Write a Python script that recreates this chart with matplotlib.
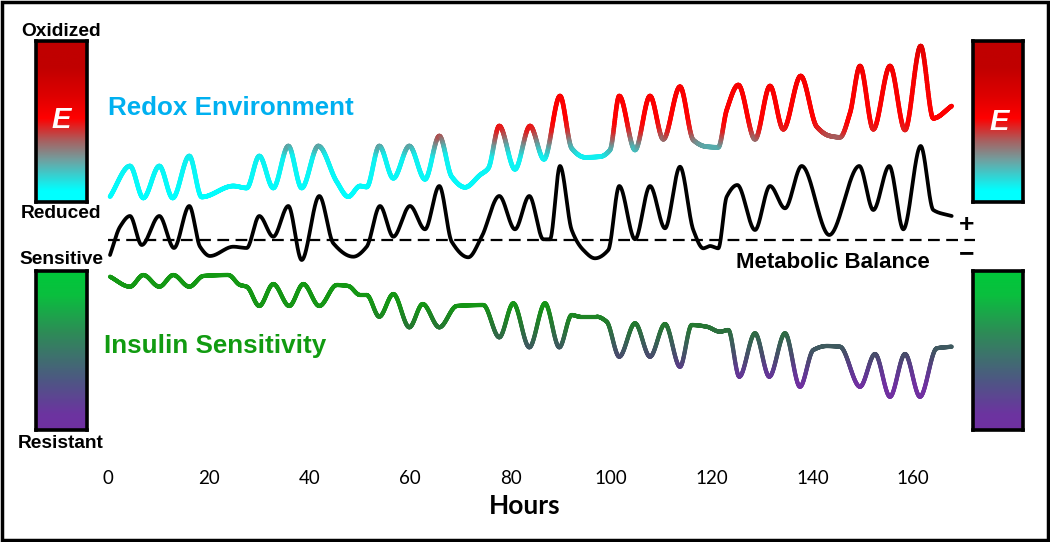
import numpy as np
import matplotlib
matplotlib.use("Agg")
import matplotlib.pyplot as plt
from matplotlib.collections import LineCollection
from matplotlib.colors import LinearSegmentedColormap, Normalize
from matplotlib.patches import Rectangle

# ---- data (hours, arbitrary level; metabolic balance line = 0) ----
redox_h = [0.4, 4.37, 7.02, 10.2, 12.86, 16.16, 18.62, 24.9, 27.57, 30.07, 32.85, 35.84,
           38.5, 41.8, 45.46, 47.76, 50.09, 51.42, 53.92, 56.71, 59.89, 63.01, 65.85, 68.31,
           70.96, 73.94, 75.59, 77.77, 80.89, 83.88, 86.66, 89.84, 92.16, 94.81, 97.79, 99.78,
           101.62, 104.75, 107.73, 110.37, 113.69, 116.33, 118.99, 121.3, 122.97, 125.28,
           128.6, 131.58, 134.22, 137.68, 140.86, 143.5, 145.49, 147.48, 149.47, 152.11,
           155.43, 158.41, 161.53, 164.03, 167.69]
redox_v = [4.33, 7.4, 4.2, 7.4, 4.2, 8.4, 4.3, 5.4, 5.2, 8.4, 5.2, 9.4,
           5.2, 9.4, 5.83, 4.33, 5.4, 5.3, 9.4, 6.17, 9.4, 6.07, 10.4, 6.33,
           5.27, 6.5, 7.17, 11.4, 7.07, 11.4, 8.07, 14.4, 9.17, 8.27, 8.33, 9.0,
           14.4, 9.0, 14.4, 10.07, 15.33, 10.0, 9.33, 9.27, 13.0, 15.5,
           10.07, 15.4, 11.07, 16.4, 11.33, 10.4, 10.27, 12.7, 17.4, 11.07,
           17.4, 11.0, 19.4, 12.17, 13.4]

balance_h = [0.4, 2.39, 4.37, 6.7, 10.2, 13.12, 16.16, 18.29, 20.27, 24.9, 27.57, 30.07,
             32.85, 35.84, 38.5, 42.0, 44.78, 48.76, 51.42, 54.06, 56.71, 60.02, 63.01,
             65.85, 68.31, 71.61, 74.27, 77.77, 80.89, 83.74, 86.52, 87.85, 89.84, 92.16,
             94.47, 96.79, 99.44, 101.62, 104.75, 107.73, 110.71, 113.69, 116.33, 118.32,
             119.65, 121.3, 122.97, 125.08, 128.6, 131.58, 134.56, 137.88, 143.36, 149.33,
             152.11, 155.29, 158.08, 161.53, 164.03, 167.69]
balance_v = [-1.5, 1.33, 2.4, -0.5, 2.4, -0.8, 3.4, -0.67, -1.6, -0.67, -0.8, 2.4,
             0.33, 3.4, -2.0, 4.4, -0.33, -1.67, -0.67, 3.4, 0.33, 3.4, 1.07,
             5.4, -0.17, -1.73, 0.33, 4.4, 1.07, 4.4, 0.07, 0.07, 7.4, 1.0,
             -1.0, -1.83, -1.0, 5.4, 0.07, 5.4, 1.17, 7.33, 1.0, -0.83,
             -0.6, -0.83, 4.33, 5.5, 1.0, 5.4, 3.17, 7.4, 0.5, 7.4,
             3.0, 7.4, 1.07, 9.4, 3.0, 2.4]

insulin_h = [0.4, 4.37, 7.02, 10.2, 12.98, 16.16, 18.94, 23.91, 26.24, 27.57, 30.07, 32.85,
             36.03, 38.82, 42.0, 45.46, 47.76, 50.09, 51.42, 53.92, 56.71, 59.89, 62.55,
             65.85, 69.31, 74.59, 77.77, 80.56, 83.74, 86.86, 89.7, 92.16, 93.81, 97.13,
             99.12, 101.62, 104.75, 107.73, 110.71, 113.69, 116.02, 119.0, 121.64, 123.29,
             125.48, 128.6, 131.44, 134.56, 137.54, 140.18, 142.85, 145.49, 149.47, 152.45,
             155.43, 158.41, 161.39, 164.71, 167.69]
insulin_v = [-3.67, -4.67, -3.5, -4.67, -3.5, -4.67, -3.6, -3.5, -4.5, -4.67, -6.6, -4.4,
             -6.6, -4.4, -6.6, -4.5, -4.6, -5.5, -5.5, -7.67, -5.4, -8.73, -6.4,
             -8.73, -6.6, -6.5, -9.73, -6.33, -10.73, -6.33, -10.73, -7.5, -7.67, -7.67,
             -8.17, -11.67, -8.33, -11.67, -8.4, -12.67, -8.5, -8.67, -9.17, -9.0,
             -13.67, -9.33, -13.67, -9.33, -14.67, -11.0, -10.6, -10.67, -14.67, -11.4,
             -15.67, -11.4, -15.67, -10.83, -10.67]

balance_level = 0.0
balance_end = 172.3
hour_ticks = [0, 20, 40, 60, 80, 100, 120, 140, 160]

W, H = 1050, 542
PX_PER_H = 805 / 160

bold = ["Liberation Sans", "DejaVu Sans"]
axis_font = ["Lato", "DejaVu Sans"]

redox_line_cmap = LinearSegmentedColormap.from_list("redox_line", [
    (0.0, "#00FFFF"), (0.27, "#10F0F0"), (0.325, "#50B0B0"), (0.35, "#6E9494"),
    (0.3875, "#A06060"), (0.4375, "#E02020"), (0.5, "#FF0000"), (0.81, "#F40000"),
    (1.0, "#DC0000")])
redox_bar_cmap = LinearSegmentedColormap.from_list("redox_bar", [
    (0.0, "#00FFFF"), (0.07, "#00FFFF"), (0.26, "#70A0A0"), (0.38, "#A86060"),
    (0.52, "#FF0000"), (0.65, "#E00000"), (0.84, "#C00000"), (1.0, "#C00000")])
insulin_line_cmap = LinearSegmentedColormap.from_list("ins_line", [
    (0.0, "#7030A0"), (0.143, "#7030A0"), (0.25, "#5E3A90"), (0.343, "#4A4A6E"),
    (0.429, "#3C5C5C"), (0.579, "#237A2E"), (0.714, "#159515"), (1.0, "#129A12")])
insulin_bar_cmap = LinearSegmentedColormap.from_list("ins_bar", [
    (0.0, "#7030A0"), (0.1, "#6C34A0"), (0.3, "#4F5585"), (0.45, "#3F6F6F"),
    (0.61, "#2E8B57"), (0.85, "#0ABF3E"), (1.0, "#00C83A")])


def pchip(x, y, xs):
    x = np.asarray(x, float)
    y = np.asarray(y, float)
    h = np.diff(x)
    d = np.diff(y) / h
    m = np.zeros_like(y)
    for k in range(1, len(x) - 1):
        if d[k - 1] * d[k] > 0:
            w1 = 2 * h[k] + h[k - 1]
            w2 = h[k] + 2 * h[k - 1]
            m[k] = (w1 + w2) / (w1 / d[k - 1] + w2 / d[k])
    m[0] = d[0]
    m[-1] = d[-1]
    i = np.clip(np.searchsorted(x, xs) - 1, 0, len(h) - 1)
    t = (xs - x[i]) / h[i]
    h00 = 2 * t**3 - 3 * t**2 + 1
    h10 = t**3 - 2 * t**2 + t
    h01 = -2 * t**3 + 3 * t**2
    h11 = t**3 - t**2
    return h00 * y[i] + h10 * h[i] * m[i] + h01 * y[i + 1] + h11 * h[i] * m[i + 1]


def smooth(x, y):
    xs = np.linspace(x[0], x[-1], 3000)
    return xs, pchip(x, y, xs)


def gradient_line(ax, x, y, cmap, vmin, vmax, lw):
    xs, ys = smooth(x, y)
    pts = np.column_stack([xs, ys]).reshape(-1, 1, 2)
    segs = np.concatenate([pts[:-1], pts[1:]], axis=1)
    lc = LineCollection(segs, cmap=cmap, norm=Normalize(vmin, vmax), linewidths=lw,
                        capstyle="round", joinstyle="round")
    lc.set_array(0.5 * (ys[:-1] + ys[1:]))
    ax.add_collection(lc)


fig = plt.figure(figsize=(W / 100, H / 100), dpi=100)
fig.patch.set_facecolor("white")

# main axes: pixel rows 0..466, hours axis along x
ax = fig.add_axes([0, 1 - 466 / H, 1, 466 / H])
ax.set_xlim(-108 / PX_PER_H, (W - 108) / PX_PER_H)
ax.set_ylim((240 - 466) / 10, 24.0)
for s in ax.spines.values():
    s.set_visible(False)
ax.set_yticks([])
ax.set_xticks(hour_ticks)
ax.tick_params(axis="x", length=0, pad=3)
for lab in ax.get_xticklabels():
    lab.set_fontfamily(axis_font)
    lab.set_fontsize(13.5)
ax.set_xlabel("Hours", fontfamily=axis_font, fontweight="bold", fontsize=19, labelpad=5)

ax.hlines(balance_level, hour_ticks[0], balance_end, colors="black", lw=1.6,
          linestyles=(0, (5.3, 2.9)))

gradient_line(ax, redox_h, redox_v, redox_line_cmap, 4, 20, 3.3)
bx, by = smooth(balance_h, balance_v)
ax.plot(bx, by, color="black", lw=2.7, solid_capstyle="round")
gradient_line(ax, insulin_h, insulin_v, insulin_line_cmap, -16.5, -2.5, 3.0)


def px_text(x, y, s, **kw):
    fig.text(x / W, 1 - y / H, s, ha="center", va="center", **kw)


def bar(left, top, right, bottom, cmap):
    cax = fig.add_axes([left / W, 1 - bottom / H, (right - left) / W, (bottom - top) / H])
    cax.imshow(np.linspace(0, 1, 256)[:, None], cmap=cmap, aspect="auto",
               origin="lower", extent=[0, 1, 0, 1])
    cax.set_xticks([])
    cax.set_yticks([])
    for s in cax.spines.values():
        s.set_linewidth(2.6)
    return cax


bar(36, 41, 87, 202, redox_bar_cmap)
bar(36, 271, 87, 430, insulin_bar_cmap)
bar(973, 41, 1023, 202, redox_bar_cmap)
bar(973, 271, 1023, 430, insulin_bar_cmap)

px_text(61, 120, "E", color="white", fontsize=21, fontweight="bold", style="italic", family=bold)
px_text(999, 122, "E", color="white", fontsize=21, fontweight="bold", style="italic", family=bold)

for y, s in [(31, "Oxidized"), (214, "Reduced"), (259, "Sensitive"), (443, "Resistant")]:
    px_text(61, y, s, fontsize=13.8, fontweight="bold", family=bold)

fig.text(108 / W, 1 - 108 / H, "Redox Environment", ha="left", va="center",
         color="#00B0F0", fontsize=18.7, fontweight="bold", family=bold)
fig.text(104 / W, 1 - 346 / H, "Insulin Sensitivity", ha="left", va="center",
         color="#119B11", fontsize=18.7, fontweight="bold", family=bold)
px_text(833, 262, "Metabolic Balance", fontsize=16, fontweight="bold", family=bold)
px_text(967, 225, "+", fontsize=19, fontweight="bold", family=bold)
px_text(967, 254, "\u2212", fontsize=19, fontweight="bold", family=bold)

fig.patches.append(Rectangle((2 / W, 2 / H), 1 - 4 / W, 1 - 4 / H, transform=fig.transFigure,
                             fill=False, edgecolor="black", lw=2.5))

fig.savefig("out.png", dpi=100)
